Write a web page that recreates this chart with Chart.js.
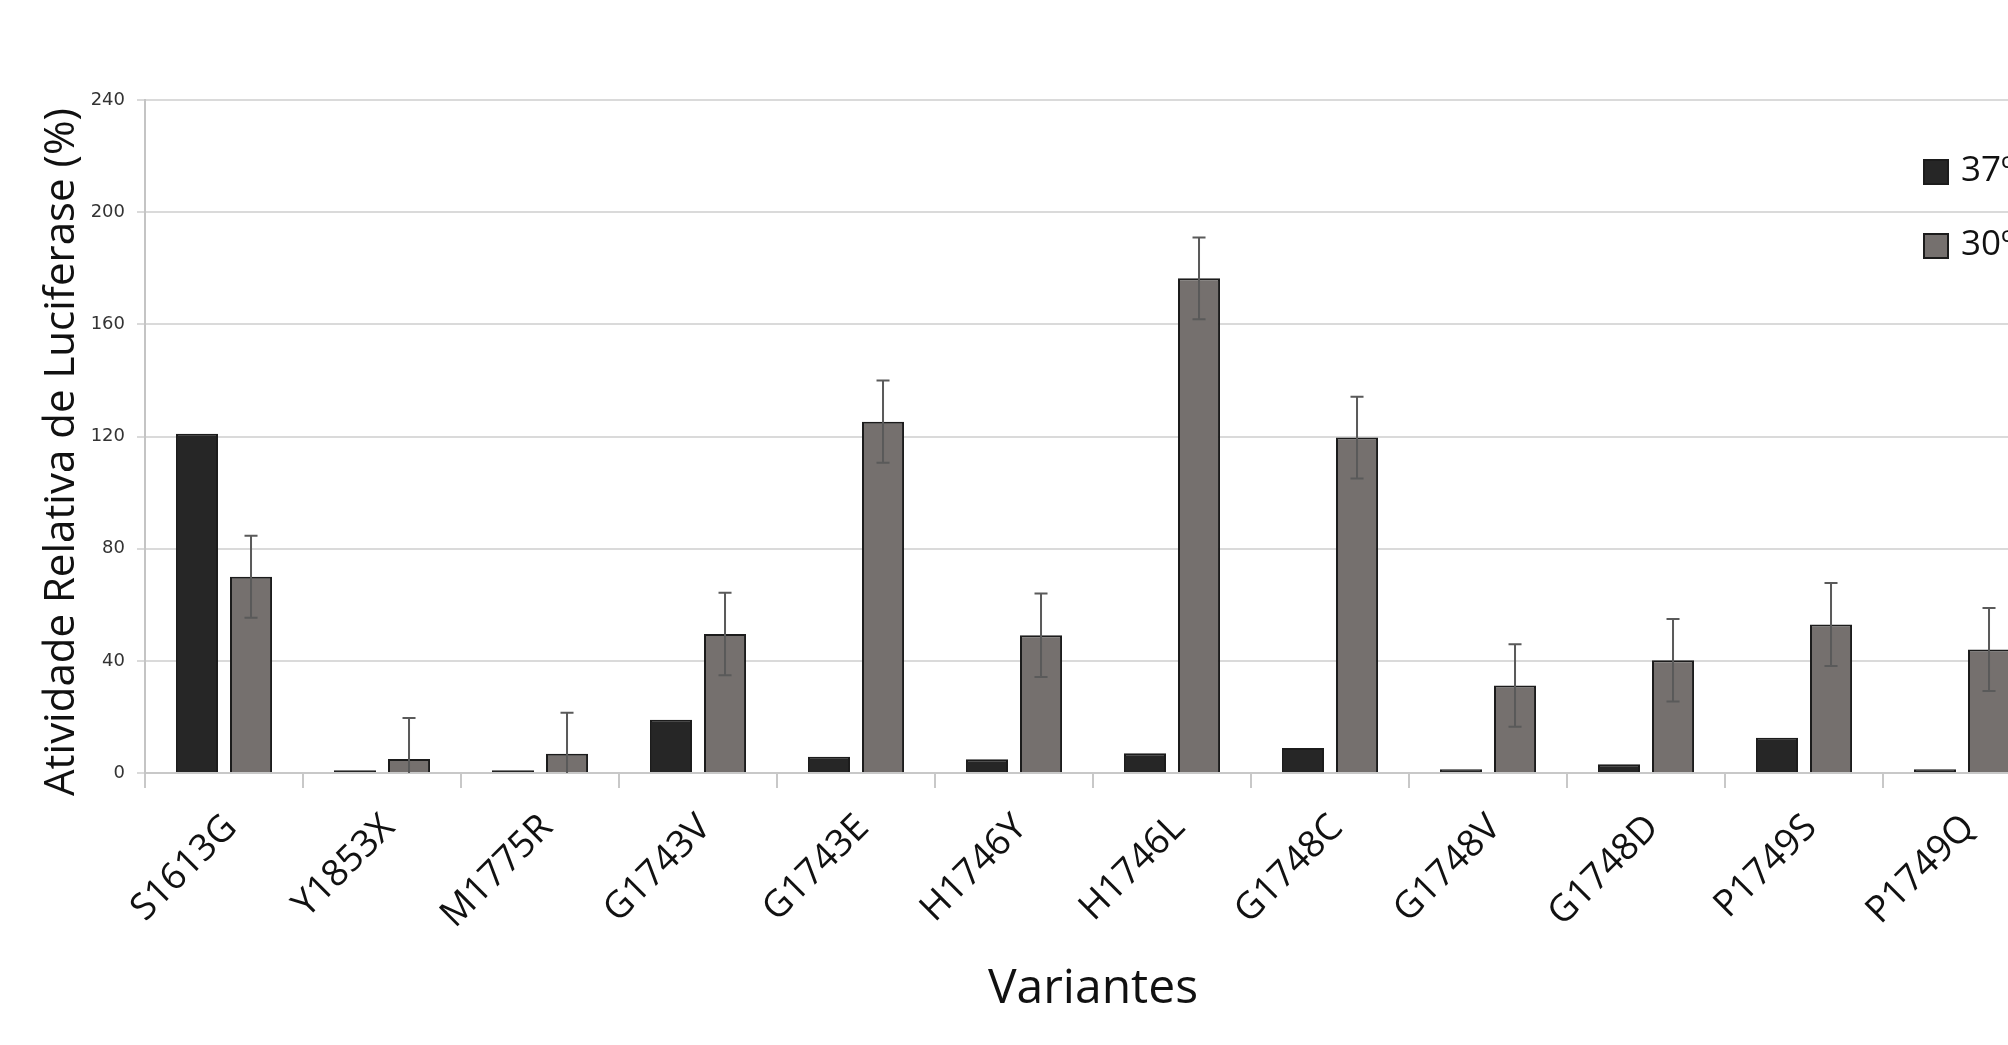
<!DOCTYPE html>
<html>
<head>
<meta charset="utf-8">
<script src="https://cdn.jsdelivr.net/npm/chart.js@4.4.1/dist/chart.umd.min.js"></script>
<style>
  html, body { margin: 0; padding: 0; background: #ffffff; overflow: hidden; }
  #wrap { width: 2100px; height: 1045px; position: relative; }
</style>
</head>
<body>
<div id="wrap"><canvas id="c" width="2100" height="1045"></canvas></div>
<script>
const categories = ["S1613G", "Y1853X", "M1775R", "G1743V", "G1743E", "H1746Y", "H1746L", "G1748C", "G1748V", "G1748D", "P1749S", "P1749Q"];
const series37 = [121, 1.0, 1.0, 19, 5.8, 4.9, 7.0, 8.9, 1.3, 3.1, 12.6, 1.3];
const series30 = [70, 5.0, 6.9, 49.6, 125.3, 49.1, 176.4, 119.6, 31.2, 40.2, 53.0, 44.0];
const error30 = [14.6, 14.6, 14.6, 14.7, 14.7, 14.9, 14.6, 14.6, 14.7, 14.7, 14.8, 14.8];
const seriesNames = ["37ºC", "30ºC"];
const yTicks = [0, 40, 80, 120, 160, 200, 240];
const xTitle = "Variantes";
const yTitle = "Atividade Relativa de Luciferase (%)";

const COL_BLACK = "#262626";
const COL_GRAY = "#75706e";
const COL_BORDER = "#1c1c1c";

const errorBars = {
  id: "errorBars",
  afterDatasetsDraw(chart) {
    const ctx = chart.ctx;
    const meta = chart.getDatasetMeta(1);
    const ys = chart.scales.y;
    ctx.save();
    ctx.strokeStyle = "#5a5a5a";
    ctx.lineWidth = 2;
    meta.data.forEach((bar, i) => {
      const v = series30[i], e = error30[i];
      const x = bar.x;
      const yt = ys.getPixelForValue(v + e);
      const yb = ys.getPixelForValue(Math.max(0, v - e));
      ctx.beginPath();
      ctx.moveTo(x, yt); ctx.lineTo(x, yb);
      ctx.moveTo(x - 6.5, yt); ctx.lineTo(x + 6.5, yt);
      if (v - e > 0) { ctx.moveTo(x - 6.5, yb); ctx.lineTo(x + 6.5, yb); }
      ctx.stroke();
    });
    ctx.restore();
  }
};

const customText = {
  id: "customText",
  afterDraw(chart) {
    const ctx = chart.ctx;
    const area = chart.chartArea;
    ctx.save();
    // x title
    ctx.fillStyle = "#111";
    ctx.font = "48px 'Open Sans'";
    ctx.textAlign = "center";
    ctx.textBaseline = "alphabetic";
    ctx.fillText(xTitle, (area.left + area.right) / 2, 1003);
    // y title
    ctx.save();
    ctx.translate(74, 452);
    ctx.rotate(-Math.PI / 2);
    ctx.font = "42px 'Open Sans'";
    ctx.textAlign = "center";
    ctx.textBaseline = "alphabetic";
    ctx.fillText(yTitle, 0, 0);
    ctx.restore();
    // legend
    const fills = [COL_BLACK, COL_GRAY];
    const tops = [159, 233];
    ctx.font = "35px 'Open Sans'";
    ctx.textAlign = "left";
    ctx.textBaseline = "middle";
    for (let i = 0; i < 2; i++) {
      ctx.fillStyle = fills[i];
      ctx.fillRect(1923, tops[i], 26, 26);
      ctx.strokeStyle = COL_BORDER;
      ctx.lineWidth = 2;
      ctx.strokeRect(1924, tops[i] + 1, 24, 24);
      ctx.fillStyle = "#111";
      ctx.fillText(seriesNames[i], 1961, tops[i] + 12);
    }
    ctx.restore();
  }
};

new Chart(document.getElementById("c"), {
  type: "bar",
  data: {
    labels: categories,
    datasets: [
      { label: seriesNames[0], data: series37, backgroundColor: COL_BLACK, borderColor: COL_BORDER, borderWidth: 2, categoryPercentage: 0.684, barPercentage: 0.778 },
      { label: seriesNames[1], data: series30, backgroundColor: COL_GRAY, borderColor: COL_BORDER, borderWidth: 2, categoryPercentage: 0.684, barPercentage: 0.778 }
    ]
  },
  options: {
    responsive: false,
    animation: false,
    devicePixelRatio: 1,
    layout: { padding: { left: 0, top: 100, right: 59, bottom: 0 } },
    plugins: { legend: { display: false }, tooltip: { enabled: false } },
    scales: {
      x: {
        grid: { display: true, drawOnChartArea: false, drawTicks: true, tickLength: 15, color: "#c8c8c8", lineWidth: 2, offset: true },
        border: { display: true, color: "#c8c8c8", width: 2 },
        ticks: { color: "#111", font: { family: "'Open Sans'", size: 37 }, maxRotation: 45, minRotation: 45, padding: 18, labelOffset: 7, autoSkip: false },
        afterFit(scale) { scale.height = 272; }
      },
      y: {
        min: 0, max: 240,
        afterBuildTicks(scale) { scale.ticks = yTicks.map(v => ({ value: v })); },
        grid: { color: "#dadada", lineWidth: 2, drawTicks: true, tickLength: 8 },
        border: { display: true, color: "#c4c4c4", width: 2 },
        ticks: { color: "#333", font: { family: "'DejaVu Sans'", size: 18 }, padding: 12 },
        afterFit(scale) { scale.width = 145; }
      }
    }
  },
  plugins: [errorBars, customText]
});
</script>
</body>
</html>
